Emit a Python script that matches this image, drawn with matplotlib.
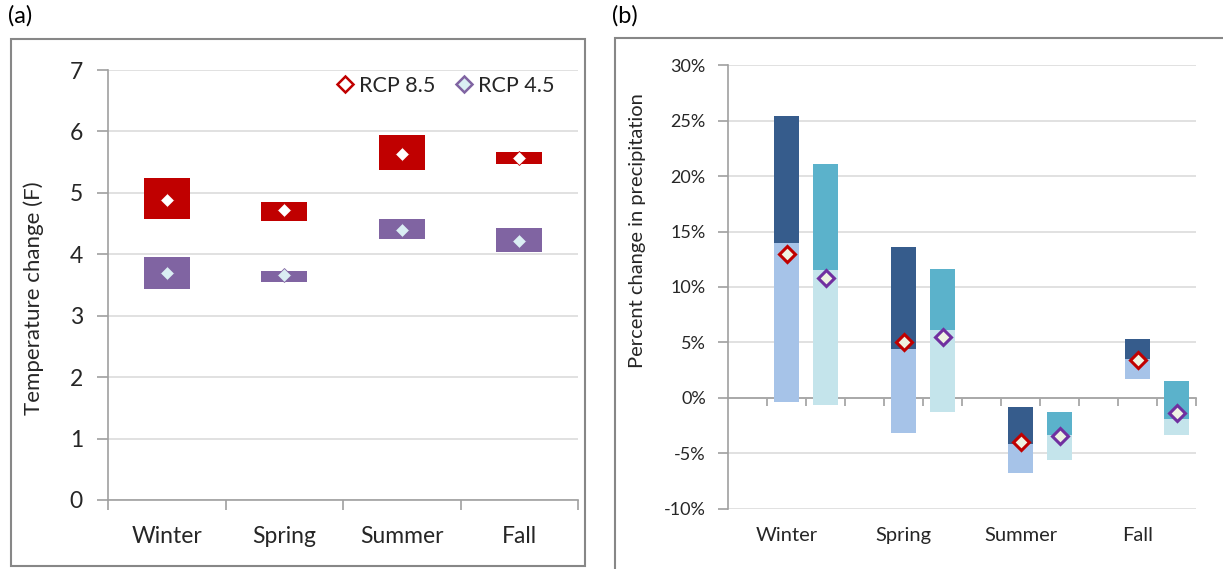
import numpy as np
import matplotlib
matplotlib.use("Agg")
import matplotlib.pyplot as plt
from matplotlib.lines import Line2D
from matplotlib.patches import Rectangle
from matplotlib.ticker import FuncFormatter
from matplotlib.transforms import blended_transform_factory

plt.rcParams['font.family'] = ['Lato', 'DejaVu Sans']
txt_col = '#262626'

#%% Data
seasons = ['Winter', 'Spring', 'Summer', 'Fall']

# (a) temperature change, F
temp85_low = [4.58, 4.54, 5.38, 5.47]
temp85_high = [5.24, 4.85, 5.94, 5.67]
temp85_mid = [4.88, 4.72, 5.63, 5.57]
temp45_low = [3.43, 3.55, 4.25, 4.03]
temp45_high = [3.96, 3.73, 4.58, 4.42]
temp45_mid = [3.70, 3.66, 4.40, 4.21]

# (b) precipitation change, %
pr85_low = [-0.4, -3.2, -6.8, 1.7]
pr85_split = [14.0, 4.4, -4.2, 3.5]
pr85_high = [25.4, 13.6, -0.85, 5.3]
pr85_mid = [13.0, 5.0, -4.0, 3.4]
pr45_low = [-0.7, -1.3, -5.6, -3.4]
pr45_split = [11.5, 6.1, -3.4, -1.9]
pr45_high = [21.1, 11.6, -1.3, 1.55]
pr45_mid = [10.8, 5.5, -3.5, -1.4]

W, H = 1223, 569
fig = plt.figure(figsize=(W / 100, H / 100), dpi=100)

def fx(px):
    return px / W

def fy(py):
    return 1 - py / H

# panel frames
frame_col = '#878787'
fig.add_artist(Rectangle((fx(11), fy(566)), fx(574), 527 / H, transform=fig.transFigure,
                         fill=False, ec=frame_col, lw=1.5))
fig.add_artist(Rectangle((fx(615), fy(600)), fx(700), 562 / H, transform=fig.transFigure,
                         fill=False, ec=frame_col, lw=1.5))
fig.text(fx(8), fy(16), '(a)', fontsize=17, color='black', va='center', ha='left')
fig.text(fx(612), fy(16), '(b)', fontsize=17, color='black', va='center', ha='left')

#%% Panel (a)
fs_a = 16.5
ax1 = fig.add_axes([fx(108), fy(500), fx(470), 430 / H])
x = np.arange(len(seasons)) + 0.5
ax1.bar(x, np.array(temp85_high) - np.array(temp85_low), bottom=temp85_low, width=0.39,
        color='#C00000', zorder=3)
ax1.bar(x, np.array(temp45_high) - np.array(temp45_low), bottom=temp45_low, width=0.39,
        color='#8064A2', zorder=3)
ax1.plot(x, temp85_mid, ls='none', marker='D', ms=7.2, mfc='white', mec='#C00000', mew=0.6, zorder=4)
ax1.plot(x, temp45_mid, ls='none', marker='D', ms=7.2, mfc='#DAEEF3', mec='#8064A2', mew=0.6, zorder=4)

ax1.set_xlim(0, 4)
ax1.set_ylim(0, 7)
ax1.set_yticks(range(8))
ax1.set_xticks(range(5))
ax1.set_xticklabels([])
ax1.set_xticks(x, minor=True)
ax1.set_xticklabels(seasons, minor=True)
ax1.tick_params(axis='x', which='minor', length=0, pad=19, labelsize=fs_a, labelcolor=txt_col)
ax1.tick_params(axis='x', which='major', length=7, width=1.2, color='#A0A0A0')
ax1.tick_params(axis='y', length=8, width=1.2, color='#A0A0A0', pad=10, labelsize=fs_a,
                labelcolor=txt_col)
for s in ['top', 'right']:
    ax1.spines[s].set_visible(False)
for s in ['left', 'bottom']:
    ax1.spines[s].set_color('#A0A0A0')
    ax1.spines[s].set_linewidth(1.2)
ax1.grid(axis='y', color='#DCDCDC', lw=1.2, zorder=0)
ax1.set_axisbelow(True)
fig.text(fx(33.5), fy(298), 'Temperature change (F)', rotation=90, ha='center', va='center',
         fontsize=16, color=txt_col)

handles = [Line2D([], [], ls='none', marker='D', ms=8, mfc='white', mec='#C00000', mew=1.8),
           Line2D([], [], ls='none', marker='D', ms=8, mfc='#DAEEF3', mec='#8064A2', mew=1.8)]
ax1.legend(handles, ['RCP 8.5', 'RCP 4.5'], ncol=2, frameon=False, loc='center',
           bbox_to_anchor=(fx(446), fy(86)), bbox_transform=fig.transFigure,
           handlelength=0.7, handletextpad=0.3, columnspacing=1.0, fontsize=15.5,
           labelcolor=txt_col, borderpad=0)

#%% Panel (b)
ax2 = fig.add_axes([fx(728), fy(508.5), fx(468), 443.2 / H])
xb85 = np.arange(len(seasons)) * 3 + 1.5
xb45 = xb85 + 1
bw = 0.63
ax2.bar(xb85, np.array(pr85_split) - np.array(pr85_low), bottom=pr85_low, width=bw,
        color='#A6C3E8', zorder=3)
ax2.bar(xb85, np.array(pr85_high) - np.array(pr85_split), bottom=pr85_split, width=bw,
        color='#365C8C', zorder=3)
ax2.bar(xb45, np.array(pr45_split) - np.array(pr45_low), bottom=pr45_low, width=bw,
        color='#C4E4EB', zorder=3)
ax2.bar(xb45, np.array(pr45_high) - np.array(pr45_split), bottom=pr45_split, width=bw,
        color='#5BB2CB', zorder=3)
ax2.plot(xb85, pr85_mid, ls='none', marker='D', ms=8.6, mfc='#EEF3E2', mec='#C00000', mew=2.2, zorder=5)
ax2.plot(xb45, pr45_mid, ls='none', marker='D', ms=8.6, mfc='#EEF3E2', mec='#7030A0', mew=2.2, zorder=5)

ax2.set_xlim(0, 12)
ax2.set_ylim(-10, 30)
ax2.set_yticks(range(-10, 31, 5))
ax2.yaxis.set_major_formatter(FuncFormatter(lambda v, p: '%d%%' % v))
ax2.set_xticks(range(1, 13))
ax2.set_xticklabels([])
ax2.spines['bottom'].set_position(('data', 0))
for s in ['top', 'right']:
    ax2.spines[s].set_visible(False)
for s in ['left', 'bottom']:
    ax2.spines[s].set_color('#A0A0A0')
    ax2.spines[s].set_linewidth(1.2)
ax2.tick_params(axis='x', length=6, width=1.2, color='#A0A0A0')
ax2.tick_params(axis='y', length=7, width=1.2, color='#A0A0A0', pad=9, labelsize=13,
                labelcolor=txt_col)
ax2.grid(axis='y', color='#DCDCDC', lw=1.2, zorder=0)
ax2.set_axisbelow(True)
trans = blended_transform_factory(ax2.transData, ax2.transAxes)
for xi, name in zip(xb85, seasons):
    ax2.text(xi, -0.062, name, transform=trans, ha='center', va='center', fontsize=14.5,
             color=txt_col)
fig.text(fx(638), fy(231), 'Percent change in precipitation', rotation=90, ha='center',
         va='center', fontsize=14.5, color=txt_col)

fig.savefig('out.png', dpi=100)
